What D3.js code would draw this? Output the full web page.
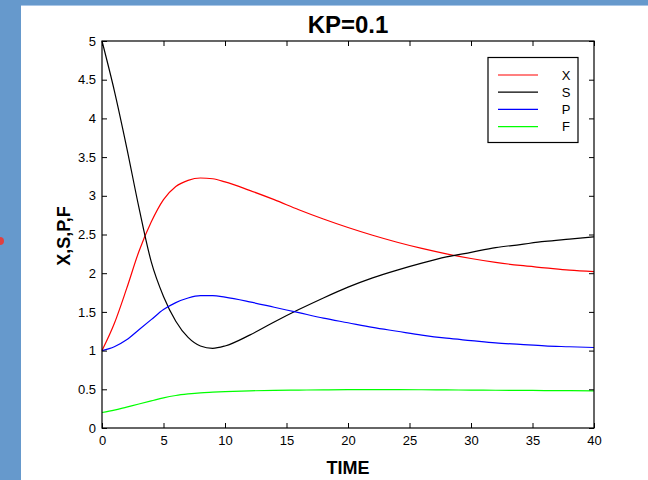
<!DOCTYPE html>
<html><head><meta charset="utf-8">
<script src="https://cdn.jsdelivr.net/npm/d3@7"></script>
<style>body{margin:0;background:#fff}svg{display:block}text{font-family:"Liberation Sans",Arial,sans-serif}</style>
</head><body>
<svg id="c" width="648" height="480"></svg>
<script>
const time = [0,1,2,3,4,5,6,7,8,9,10,12,14,16,18,20,22,24,26,28,30,32,34,36,38,40];
const X = [1,1.35,1.8,2.28,2.66,2.95,3.12,3.2,3.23,3.22,3.18,3.07,2.95,2.82,2.7,2.59,2.49,2.4,2.32,2.25,2.19,2.14,2.1,2.07,2.04,2.02];
const S = [5,4.36,3.63,2.85,2.15,1.7,1.38,1.17,1.06,1.03,1.06,1.2,1.37,1.53,1.68,1.82,1.94,2.04,2.13,2.21,2.27,2.33,2.37,2.41,2.44,2.47];
const P = [1,1.05,1.14,1.27,1.4,1.53,1.62,1.68,1.71,1.71,1.69,1.63,1.56,1.49,1.42,1.36,1.3,1.25,1.2,1.16,1.13,1.1,1.08,1.06,1.05,1.04];
const F = [0.2,0.23,0.27,0.31,0.35,0.39,0.42,0.44,0.455,0.463,0.47,0.48,0.487,0.49,0.493,0.495,0.495,0.495,0.494,0.492,0.49,0.488,0.486,0.484,0.482,0.48];
const seriesNames = ["X","S","P","F"];
const seriesColors = ["#ff0000","#000000","#0000ff","#00ff00"];
const xTicks = [0,5,10,15,20,25,30,35,40];
const yTicks = [0,0.5,1,1.5,2,2.5,3,3.5,4,4.5,5];
const title = "KP=0.1", xLabel = "TIME", yLabel = "X,S,P,F";

const svg = d3.select("#c");
// slide background frame
svg.append("rect").attr("x",0).attr("y",0).attr("width",648).attr("height",5).attr("fill","#6699cc");
svg.append("rect").attr("x",0).attr("y",5).attr("width",648).attr("height",1).attr("fill","#a9c6e6");
svg.append("rect").attr("x",0).attr("y",0).attr("width",21).attr("height",480).attr("fill","#6699cc");
svg.append("circle").attr("cx",0).attr("cy",241).attr("r",4).attr("fill","#e04040");

const L=102,R=594,T=41,B=428;
const x = d3.scaleLinear().domain([0,40]).range([L,R]);
const y = d3.scaleLinear().domain([0,5]).range([B,T]);

const g = svg.append("g");
const data = [X,S,P,F];
const line = d3.line().curve(d3.curveMonotoneX).x((d,i)=>x(time[i])).y(d=>y(d));
data.forEach((s,k)=>{
  g.append("path").datum(s).attr("d",line).attr("fill","none").attr("stroke",seriesColors[k]).attr("stroke-width",1.2);
});

// axes with inward ticks
const tk = 5;
const axB = svg.append("g").attr("transform",`translate(0,${B})`).call(d3.axisBottom(x).tickValues(xTicks).tickSize(-tk).tickPadding(8).tickFormat(d3.format("d")));
const axT = svg.append("g").attr("transform",`translate(0,${T})`).call(d3.axisTop(x).tickValues(xTicks).tickSize(-tk).tickFormat(""));
const axL = svg.append("g").attr("transform",`translate(${L},0)`).call(d3.axisLeft(y).tickValues(yTicks).tickSize(-tk).tickPadding(6).tickFormat(d=>String(d)));
const axR = svg.append("g").attr("transform",`translate(${R},0)`).call(d3.axisRight(y).tickValues(yTicks).tickSize(-tk).tickFormat(""));
[axB,axT,axL,axR].forEach(a=>{
  a.selectAll("path.domain").remove();
  a.selectAll("line").attr("stroke","#000");
  a.selectAll("text").attr("fill","#000").style("font-size","13px").style("font-family","Liberation Sans, Arial, sans-serif");
});
axB.selectAll("text").attr("dy","0.71em");
svg.append("rect").attr("x",L).attr("y",T).attr("width",R-L).attr("height",B-T).attr("fill","none").attr("stroke","#000").attr("stroke-width",1.2);

svg.append("text").attr("x",348).attr("y",33).attr("text-anchor","middle").style("font-size","24px").style("font-weight","bold").text(title);
svg.append("text").attr("x",348).attr("y",474).attr("text-anchor","middle").style("font-size","18px").style("font-weight","bold").text(xLabel);
svg.append("text").attr("transform","translate(70,236) rotate(-90)").attr("text-anchor","middle").style("font-size","18px").style("font-weight","bold").text(yLabel);

// legend
const lg = svg.append("g");
lg.append("rect").attr("x",488).attr("y",57.5).attr("width",90).attr("height",85).attr("fill","#fff").attr("stroke","#000").attr("stroke-width",1.2);
seriesNames.forEach((n,i)=>{
  const yy = 75 + i*17.2;
  lg.append("line").attr("x1",498).attr("x2",538).attr("y1",yy).attr("y2",yy).attr("stroke",seriesColors[i]).attr("stroke-width",1.2);
  lg.append("text").attr("x",566).attr("y",yy+4.7).attr("text-anchor","middle").style("font-size","13px").text(n);
});
</script>
</body></html>
